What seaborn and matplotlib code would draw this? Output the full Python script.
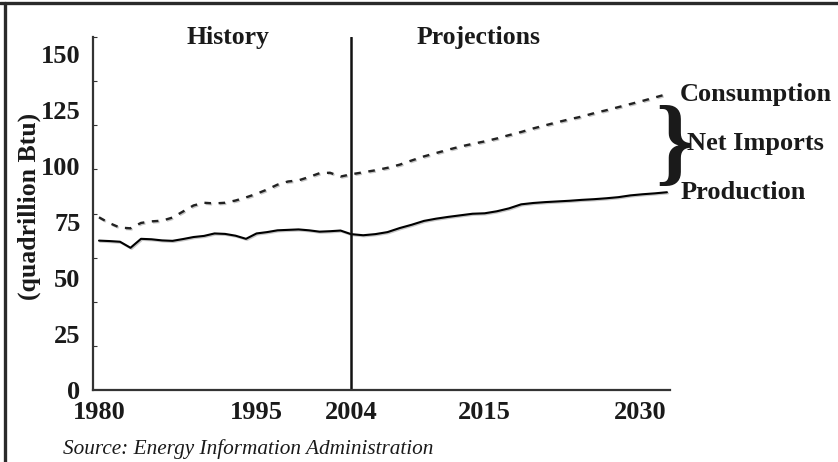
import numpy as np
import matplotlib
matplotlib.use("Agg")
import matplotlib.pyplot as plt
import matplotlib.patheffects as pe
from matplotlib.lines import Line2D
from matplotlib.ticker import FixedLocator
import seaborn as sns

# US energy, quadrillion Btu
years = list(range(1980, 2031))
production = [66.7, 66.5, 66.2, 63.5, 67.5, 67.3, 66.8, 66.6, 67.4, 68.3,
              68.8, 69.9, 69.7, 68.9, 67.5, 69.9, 70.5, 71.3, 71.5, 71.7,
              71.3, 70.7, 70.9, 71.2, 69.6,
              69.1, 69.6, 70.5, 72.3, 73.8, 75.5, 76.5, 77.3, 78.0, 78.7,
              78.9, 79.8, 81.1, 82.9, 83.5, 83.9, 84.2, 84.5, 84.9, 85.2,
              85.6, 86.1, 86.9, 87.4, 87.8, 88.3]
consumption = [77.1, 74.5, 72.5, 72.2, 74.6, 75.3, 75.6, 77.0, 79.7, 82.4,
               83.6, 83.3, 83.6, 84.6, 86.0, 87.6, 89.5, 91.7, 93.1, 93.6,
               95.1, 96.8, 97.0, 95.3, 96.3,
               97.2, 98.1, 99.2, 100.6, 102.5, 104.3, 105.8, 107.3, 108.7, 109.9,
               111.0, 112.3, 113.8, 115.2, 116.8, 118.2, 119.6, 120.9, 122.1, 123.6,
               124.9, 126.3, 127.7, 129.1, 130.6, 132.1]
split_year = 2004
tick_years = [1980, 1995, 2004, 2015, 2030]
tick_labels = ["1980", "1995", "2004", "2015", "2030"]
y_ticks = [0, 25, 50, 75, 100, 125, 150]

sns.set_theme(style="white")
plt.rcParams["font.family"] = ["Liberation Serif", "DejaVu Serif"]
plt.rcParams["font.weight"] = "bold"

# projection years are drawn a bit wider than history years
STRETCH = 12.15 / 10.5


def fwd(x):
    x = np.asarray(x, dtype=float)
    return np.where(x <= split_year, x, split_year + (x - split_year) * STRETCH)


def inv(u):
    u = np.asarray(u, dtype=float)
    return np.where(u <= split_year, u, split_year + (u - split_year) / STRETCH)


fig = plt.figure(figsize=(8.38, 4.62), dpi=100)
ax = fig.add_axes([0.111, 0.1558, 0.6885, 0.7641])

shadow = [pe.SimpleLineShadow(offset=(0.8, -0.8), alpha=0.25), pe.Normal()]
sns.lineplot(x=years, y=production, ax=ax, color="black", lw=1.5,
             path_effects=shadow)
sns.lineplot(x=years, y=consumption, ax=ax, color="#222222", lw=1.7,
             dashes=False, linestyle=(0, (2.8, 3.2)), path_effects=shadow)

ax.set_xscale("function", functions=(fwd, inv))
ax.set_xlim(1979.43, 2030.25)
ax.set_ylim(0, 157.6)

ax.axvline(split_year, color="#111111", lw=1.8)

for side in ["top", "right"]:
    ax.spines[side].set_visible(False)
for side in ["left", "bottom"]:
    ax.spines[side].set_color("#333333")
    ax.spines[side].set_linewidth(1.6)

ax.xaxis.set_major_locator(FixedLocator(tick_years))
ax.set_xticklabels(tick_labels)
ax.xaxis.get_ticklabels()[-1].set_horizontalalignment("right")
ax.set_yticks(y_ticks)
ax.yaxis.set_minor_locator(FixedLocator(np.linspace(0, 157.6, 9)))
ax.tick_params(axis="both", which="major", length=0, labelsize=19,
               labelcolor="#1a1a1a")
ax.tick_params(axis="x", pad=8)
ax.tick_params(axis="y", pad=9)
ax.tick_params(axis="y", which="minor", left=True, length=3, width=0.8,
               direction="in", color="#333333")

ax.set_ylabel("(quadrillion Btu)", fontsize=18.5, fontweight="bold",
              color="#1a1a1a")
ax.yaxis.set_label_coords(-0.09, 0.52)

ax.text(1992.3, 157.6, "History", ha="center", va="center", fontsize=18.5,
        color="#1a1a1a")
ax.text(2014.5, 157.6, "Projections", ha="center", va="center", fontsize=18.5,
        color="#1a1a1a")

ax.annotate("Consumption", xy=(years[-1], consumption[-1]), xytext=(9.5, 0),
            textcoords="offset points", va="center", ha="left", fontsize=19,
            color="#1a1a1a", annotation_clip=False)
ax.annotate("Production", xy=(years[-1], production[-1]), xytext=(9.5, 0),
            textcoords="offset points", va="center", ha="left", fontsize=19,
            color="#1a1a1a", annotation_clip=False)
mid = (consumption[-1] + production[-1]) / 2
ax.annotate("Net Imports", xy=(years[-1], mid), xytext=(14.5, 0),
            textcoords="offset points", va="center", ha="left", fontsize=19,
            color="#1a1a1a", annotation_clip=False)
ax.annotate("}", xy=(years[-1], mid), xytext=(5, -4.5),
            textcoords="offset points", va="center", ha="center", fontsize=70,
            fontweight="bold", color="#1a1a1a", annotation_clip=False)

fig.text(0.075, 0.028, "Source: Energy Information Administration",
         fontsize=15.3, style="italic", fontweight="normal", color="#1a1a1a",
         ha="left", va="center")

# frame lines at top and left edge
fig.add_artist(Line2D([0, 1], [0.993, 0.993], transform=fig.transFigure,
                      color="#2a2a2a", lw=2.4))
fig.add_artist(Line2D([0.0065, 0.0065], [0, 0.993], transform=fig.transFigure,
                      color="#2a2a2a", lw=2.4))

fig.savefig("out.png", dpi=100)
